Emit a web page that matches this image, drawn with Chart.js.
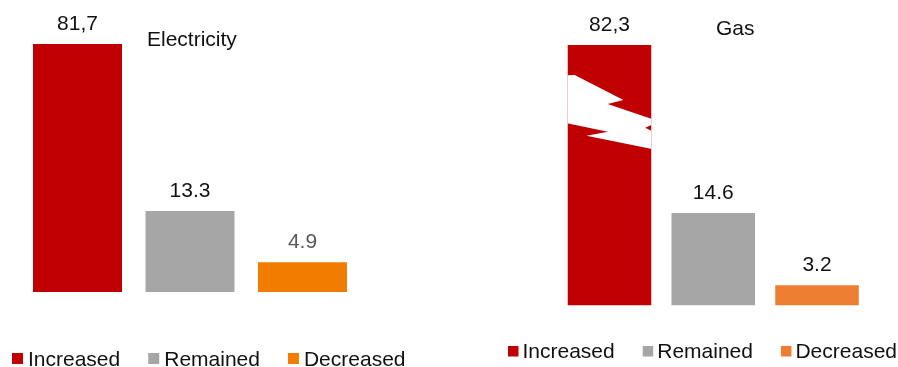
<!DOCTYPE html>
<html>
<head>
<meta charset="utf-8">
<script src="https://cdn.jsdelivr.net/npm/chart.js@4/dist/chart.umd.min.js"></script>
<style>
  html, body { margin: 0; padding: 0; background: #ffffff; }
  body { width: 898px; height: 367px; position: relative; overflow: hidden; }
  canvas { position: absolute; top: 0; }
  #elec { left: 0; }
  #gas { left: 449px; }
</style>
</head>
<body>
<canvas id="elec" width="449" height="367"></canvas>
<canvas id="gas" width="449" height="367"></canvas>
<script>
// Survey answers: share of respondents whose bill increased / remained / decreased
const categories = ['Increased', 'Remained', 'Decreased'];
const electricityValues = [81.7, 13.3, 4.9];
const gasValues = [82.3, 14.6, 3.2];
// decimal separator used in each printed value
const electricityDecimalMarks = [',', '.', '.'];
const gasDecimalMarks = [',', '.', '.'];

const FONT = '"Liberation Sans", Arial, sans-serif';
const FONT_SIZE = 21;

// Value labels above each bar; tall bars are cut at the top of the plot area
const valueLabels = {
  id: 'valueLabels',
  afterDatasetsDraw(chart, args, opts) {
    const ctx = chart.ctx;
    const meta = chart.getDatasetMeta(0);
    const ds = chart.data.datasets[0];
    ctx.save();
    ctx.font = FONT_SIZE + 'px ' + FONT;
    ctx.textAlign = 'center';
    ctx.textBaseline = 'alphabetic';
    meta.data.forEach((bar, i) => {
      const top = Math.max(bar.y, chart.chartArea.top);
      ctx.fillStyle = opts.colors[i];
      const text = ds.data[i].toFixed(1).replace('.', opts.marks[i]);
      ctx.fillText(text, bar.x, top - opts.gap);
    });
    ctx.restore();
  }
};

// Panel caption
const caption = {
  id: 'caption',
  afterDraw(chart, args, opts) {
    const ctx = chart.ctx;
    ctx.save();
    ctx.font = FONT_SIZE + 'px ' + FONT;
    ctx.fillStyle = '#111111';
    ctx.textAlign = 'left';
    ctx.textBaseline = 'alphabetic';
    ctx.fillText(opts.text, opts.x, opts.y);
    ctx.restore();
  }
};

// Legend row with small square swatches
const swatchLegend = {
  id: 'swatchLegend',
  afterDraw(chart, args, opts) {
    const ctx = chart.ctx;
    ctx.save();
    ctx.font = FONT_SIZE + 'px ' + FONT;
    ctx.textAlign = 'left';
    ctx.textBaseline = 'alphabetic';
    let x = opts.x;
    chart.data.labels.forEach((label, i) => {
      ctx.fillStyle = opts.colors[i];
      ctx.fillRect(x, opts.y - opts.box - opts.lift, opts.box, opts.box);
      x += opts.box + opts.textGap;
      ctx.fillStyle = '#111111';
      ctx.fillText(label, x, opts.y);
      x += ctx.measureText(label).width + opts.itemGap;
    });
    ctx.restore();
  }
};

// Zig-zag scale break cut through the first bar
const barBreak = {
  id: 'barBreak',
  afterDatasetsDraw(chart, args, opts) {
    const bar = chart.getDatasetMeta(0).data[0];
    const left = bar.x - bar.width / 2;
    const w = bar.width;
    const top = chart.chartArea.top;
    const P = (fx, dy) => [left + fx * w, top + dy];
    const ctx = chart.ctx;
    ctx.save();
    ctx.beginPath();
    ctx.rect(left, top, w, chart.chartArea.bottom - top);
    ctx.clip();
    const cut = [
      P(-0.1, 30.6), P(0.084, 30), P(0.666, 55), P(0.478, 59), P(1.1, 76.5),
      P(1.1, 105.5), P(0.225, 90.7), P(0.482, 86.7), P(-0.1, 76.8)
    ];
    ctx.fillStyle = '#ffffff';
    ctx.beginPath();
    cut.forEach((p, i) => i ? ctx.lineTo(p[0], p[1]) : ctx.moveTo(p[0], p[1]));
    ctx.closePath();
    ctx.fill();
    // small tooth of the break reaching the right edge
    const tooth = [P(1.0, 80), P(0.928, 82.7), P(1.0, 85.7)];
    ctx.fillStyle = bar.options.backgroundColor;
    ctx.beginPath();
    tooth.forEach((p, i) => i ? ctx.lineTo(p[0], p[1]) : ctx.moveTo(p[0], p[1]));
    ctx.closePath();
    ctx.fill();
    ctx.restore();
  }
};

function panel(id, values, colors, axisMax, pct, padding, plugins, pluginOpts) {
  return new Chart(document.getElementById(id), {
    type: 'bar',
    data: {
      labels: categories,
      datasets: [{
        data: values,
        backgroundColor: colors,
        borderWidth: 0,
        barPercentage: 1,
        categoryPercentage: pct,
        clip: 0
      }]
    },
    options: {
      responsive: false,
      animation: false,
      devicePixelRatio: 1,
      layout: { padding: padding },
      scales: {
        x: { display: false },
        y: { display: false, min: 0, max: axisMax }
      },
      plugins: Object.assign({
        legend: { display: false },
        tooltip: { enabled: false },
        title: { display: false }
      }, pluginOpts)
    },
    plugins: plugins
  });
}

const elecColors = ['#C00000', '#A6A6A6', '#F27C00'];
panel('elec', electricityValues, elecColors, 40.7, 0.791,
  { left: 21.25, right: 90.25, top: 44, bottom: 75 },
  [valueLabels, caption, swatchLegend],
  {
    valueLabels: { colors: ['#111111', '#111111', '#595959'], marks: electricityDecimalMarks, gap: 14 },
    caption: { text: 'Electricity', x: 147, y: 45.5 },
    swatchLegend: { colors: elecColors, x: 12, y: 366, box: 11, lift: 2, textGap: 5, itemGap: 28 }
  });

const gasColors = ['#C00000', '#A6A6A6', '#ED7D31'];
panel('gas', gasValues, gasColors, 41.1, 0.805,
  { left: 108.6, right: 29.1, top: 45, bottom: 61.5 },
  [barBreak, valueLabels, caption, swatchLegend],
  {
    valueLabels: { colors: ['#111111', '#111111', '#111111'], marks: gasDecimalMarks, gap: 14 },
    caption: { text: 'Gas', x: 267, y: 35 },
    swatchLegend: { colors: gasColors, x: 59, y: 357.5, box: 10.5, lift: 1, textGap: 4, itemGap: 28 }
  });
</script>
</body>
</html>
